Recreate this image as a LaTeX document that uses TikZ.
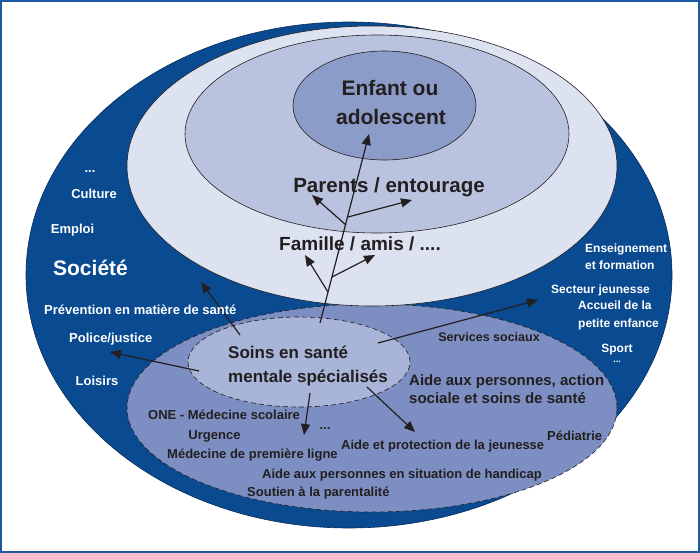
\documentclass[tikz,border=0pt]{standalone}
\usepackage{fontspec}
\setmainfont{Liberation Sans}
\usetikzlibrary{shapes.geometric,arrows.meta}

\definecolor{framecol}{RGB}{28,88,160}
\definecolor{societe}{RGB}{10,74,145}
\definecolor{famille}{RGB}{221,226,240}
\definecolor{parents}{RGB}{185,195,223}
\definecolor{enfant}{RGB}{140,156,201}
\definecolor{services}{RGB}{124,142,194}
\definecolor{soins}{RGB}{168,180,216}
\definecolor{ink}{RGB}{35,31,32}

\begin{document}
\begin{tikzpicture}[x=1pt,y=-1pt,
    ring/.style={ellipse, draw=ink, line width=0.6pt, inner sep=0pt},
    dashring/.style={ring, dash pattern=on 5pt off 3pt},
    lbl/.style={inner sep=0pt, text=ink, yshift={-0.22pt*#1}, font=\bfseries\fontsize{#1}{#1}\selectfont},
    wlbl/.style={inner sep=0pt, text=white, yshift={-0.22pt*#1}, font=\bfseries\fontsize{#1}{#1}\selectfont},
    arr/.style={-{Triangle[length=11pt,width=9pt]}, line width=1.2pt, ink}]
        \useasboundingbox (0,0) rectangle (700,553);
        \draw[framecol, line width=2pt] (1,1) rectangle (699,552);

        % Rings
        \node[ring, fill=societe, draw=societe!60!black, minimum width=646pt, minimum height=506pt] (societe) at (349,275) {};
        \node[dashring, fill=services, minimum width=490pt, minimum height=208pt] (services) at (372,408) {};
        \node[ring, fill=famille, minimum width=490pt, minimum height=280pt] (famille) at (372,166) {};
        \node[ring, fill=parents, minimum width=384pt, minimum height=198pt] (parents) at (377,134) {};
        \node[ring, fill=enfant, minimum width=183pt, minimum height=109pt] (enfant) at (384.5,105.5) {};
        \node[dashring, fill=soins, minimum width=222pt, minimum height=90pt] (soins) at (299,362) {};

        % Arrow ends
        \coordinate (stem) at (320,323);
        \coordinate (child) at (369,134);
        \coordinate (p1) at (346,225);
        \coordinate (p2) at (348,217);
        \coordinate (f1) at (328,292);
        \coordinate (f2) at (332,277);
        \coordinate (parL) at (312,195);
        \coordinate (parR) at (412,200);
        \coordinate (famL) at (305,255);
        \coordinate (famR) at (375,255);
        \coordinate (s1) at (240,335);
        \coordinate (s2) at (199,371);
        \coordinate (s3) at (378,343);
        \coordinate (s4) at (310,393);
        \coordinate (s5) at (367,387);
        \coordinate (prev) at (201,282);
        \coordinate (police) at (110,352);
        \coordinate (jeun) at (538,300);
        \coordinate (down) at (304,435);
        \coordinate (aidep) at (415,432);

        % Arrows
        \draw[arr] (stem) -- (child);
        \draw[arr] (p1) -- (parL);
        \draw[arr] (p2) -- (parR);
        \draw[arr] (f1) -- (famL);
        \draw[arr] (f2) -- (famR);
        \draw[arr] (s1) -- (prev);
        \draw[arr] (s2) -- (police);
        \draw[arr] (s3) -- (jeun);
        \draw[arr] (s4) -- (down);
        \draw[arr] (s5) -- (aidep);

        % Inner labels
        \node[lbl=21, anchor=mid] (enf1) at (390,88) {Enfant ou};
        \node[lbl=21, anchor=mid] (enf2) at (391,117) {adolescent};
        \node[lbl=20.5, anchor=mid] (par) at (389,185) {Parents / entourage};
        \node[lbl=19, anchor=mid] (fam) at (360,244) {Famille / amis / ....};
        \node[lbl=17, anchor=mid west] (soin1) at (228,352) {Soins en santé};
        \node[lbl=17, anchor=mid west] (soin2) at (228,376) {mentale spécialisés};

        % Society, left
        \node[wlbl=13, anchor=mid] (etc1) at (90,167) {...};
        \node[wlbl=13, anchor=mid] (cult) at (94,193) {Culture};
        \node[wlbl=13, anchor=mid] (empl) at (72.5,228) {Emploi};
        \node[wlbl=21, anchor=mid] (soc) at (90.5,268) {Société};
        \node[wlbl=13, anchor=mid west] (prevt) at (44,309) {Prévention en matière de santé};
        \node[wlbl=13, anchor=mid west] (polt) at (69,337) {Police/justice};
        \node[wlbl=13, anchor=mid] (lois) at (97,380) {Loisirs};

        % Society, right
        \node[wlbl=12, anchor=mid west] (ens1) at (585,247) {Enseignement};
        \node[wlbl=12, anchor=mid west] (ens2) at (585,264) {et formation};
        \node[wlbl=12, anchor=mid west] (sect) at (551,288) {Secteur jeunesse};
        \node[wlbl=12, anchor=mid west] (acc1) at (578,304) {Accueil de la};
        \node[wlbl=12, anchor=mid west] (acc2) at (578,322) {petite enfance};
        \node[wlbl=12, anchor=mid] (sport) at (617,347) {Sport};
        \node[wlbl=9, anchor=mid] (etc2) at (617,358) {...};

        % Services
        \node[lbl=12.5, anchor=mid] (soc1) at (489,336) {Services sociaux};
        \node[lbl=15, anchor=mid west] (aide1) at (409,380) {Aide aux personnes, action};
        \node[lbl=15, anchor=mid west] (aide2) at (409,398) {sociale et soins de santé};
        \node[lbl=13, anchor=mid west] (one) at (148,414) {ONE - Médecine scolaire};
        \node[lbl=13, anchor=mid] (etc3) at (325,424) {...};
        \node[lbl=13, anchor=mid] (urg) at (214.5,434) {Urgence};
        \node[lbl=13, anchor=mid west] (med) at (167,453) {Médecine de première ligne};
        \node[lbl=13, anchor=mid west] (prot) at (341,444) {Aide et protection de la jeunesse};
        \node[lbl=13, anchor=mid west] (ped) at (547,435) {Pédiatrie};
        \node[lbl=13, anchor=mid west] (hand) at (262,473) {Aide aux personnes en situation de handicap};
        \node[lbl=13, anchor=mid west] (par2) at (247,491) {Soutien à la parentalité};
    \end{tikzpicture}
\end{document}
